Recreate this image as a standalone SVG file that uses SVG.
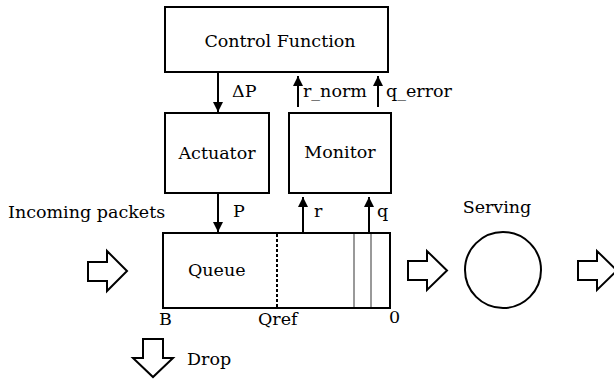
<svg xmlns="http://www.w3.org/2000/svg" width="614" height="379" viewBox="0 0 614 379">
<defs>
<marker id="ah" viewBox="0 0 10 10" refX="10" refY="5" markerWidth="5" markerHeight="5" orient="auto" markerUnits="strokeWidth">
<path d="M0,0 L10,5 L0,10 z" fill="#000"/>
</marker>
<style>
.box{fill:#fff;stroke:#000;stroke-width:2}
.c{stroke:#000;stroke-width:2;fill:none;marker-end:url(#ah)}
.blk{fill:#fff;stroke:#000;stroke-width:2;stroke-linejoin:miter}
</style>
</defs>
<rect width="614" height="379" fill="#fff"/>
<g font-family="DejaVu Serif" font-size="17.5" fill="#000">
<g id="control">
<rect class="box" x="165" y="7" width="223" height="65"/>
<text x="280" y="47" text-anchor="middle">Control Function</text>
</g>
<g id="actuator">
<rect class="box" x="165" y="113" width="104" height="80"/>
<text x="217" y="159" text-anchor="middle">Actuator</text>
</g>
<g id="monitor">
<rect class="box" x="289" y="113" width="102" height="80"/>
<text x="340" y="158" text-anchor="middle">Monitor</text>
</g>
<g id="queue">
<rect class="box" x="163" y="233" width="227" height="75"/>
<line x1="277" y1="234" x2="277" y2="307" stroke="#000" stroke-width="2" stroke-dasharray="3,2"/>
<line x1="354" y1="234" x2="354" y2="307" stroke="#777" stroke-width="1.5"/>
<line x1="371" y1="234" x2="371" y2="307" stroke="#777" stroke-width="1.5"/>
<text x="188" y="276">Queue</text>
<text x="159" y="325">B</text>
<text x="258" y="325">Qref</text>
<text x="389" y="323">0</text>
</g>
<g id="serving">
<circle class="box" cx="503" cy="270" r="38"/>
<text x="497" y="213" text-anchor="middle">Serving</text>
</g>
<g id="incoming">
<path class="blk" d="M88,262 H107 V251 L127,271 L107,291 V281 H88 Z"/>
<text x="8" y="218">Incoming packets</text>
</g>
<g id="drop">
<path class="blk" d="M143,339 H163 V358 H173 L153,377 L133,358 H143 Z"/>
<text x="187" y="365">Drop</text>
</g>
<g id="connectors">
<line class="c" x1="218" y1="73" x2="218" y2="112"/>
<line class="c" x1="298" y1="107" x2="298" y2="76"/>
<line class="c" x1="378" y1="107" x2="378" y2="76"/>
<line class="c" x1="218" y1="193" x2="218" y2="232"/>
<line class="c" x1="303" y1="232" x2="303" y2="197"/>
<line class="c" x1="369" y1="232" x2="369" y2="197"/>
<path class="blk" d="M408,261 H427 V251 L447,270.5 L427,290 V280 H408 Z"/>
<path class="blk" d="M578,261 H597 V251 L617,270.5 L597,290 V280 H578 Z"/>
<text x="232" y="97">ΔP</text>
<text x="303" y="97">r_norm</text>
<text x="386" y="97">q_error</text>
<text x="233" y="217">P</text>
<text x="314" y="217">r</text>
<text x="377" y="217">q</text>
</g>
</g>
</svg>
